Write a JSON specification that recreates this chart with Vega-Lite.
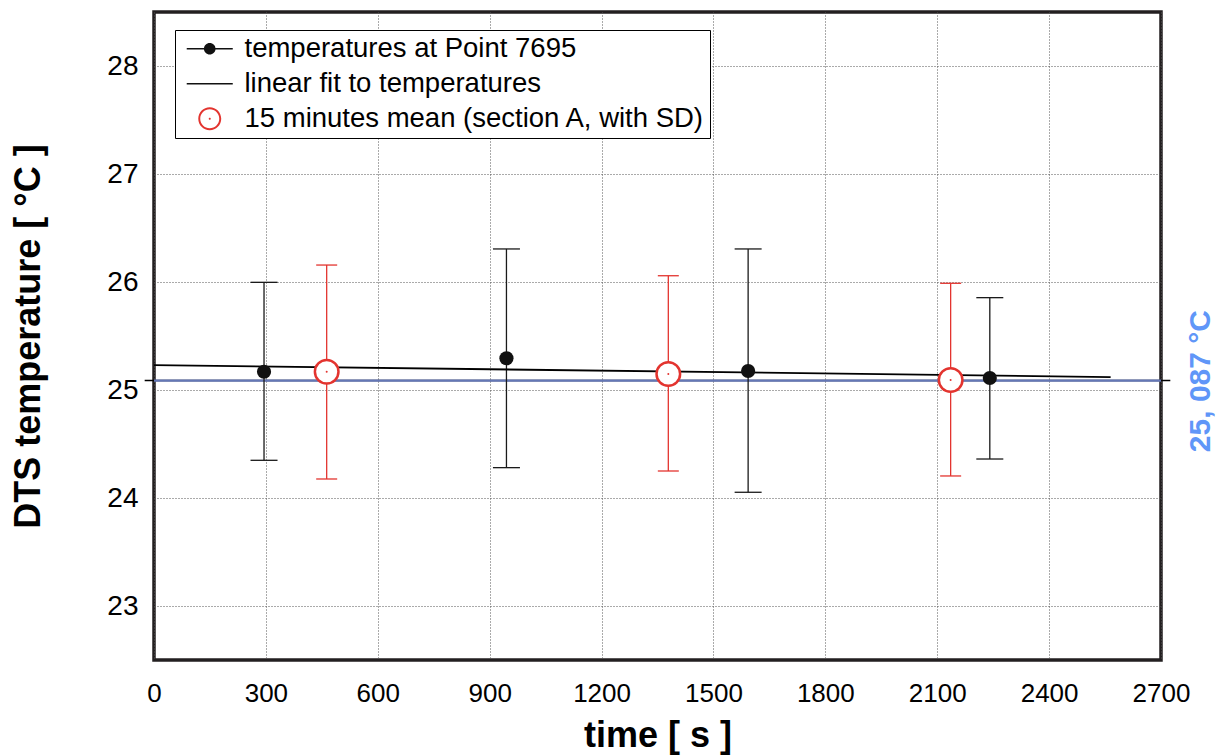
{
  "$schema": "https://vega.github.io/schema/vega-lite/v6.json",
  "width": 1007,
  "height": 648,
  "autosize": {"type": "none"},
  "padding": {"left": 154, "top": 12, "right": 60, "bottom": 95},
  "background": "white",
  "config": {
    "font": "Liberation Sans",
    "view": {"stroke": "#231f20", "strokeWidth": 3.5},
    "axis": {
      "domain": false, "ticks": false, "tickSize": 0,
      "gridColor": "#555", "gridDash": [1, 2], "gridWidth": 1,
      "labelFont": "Liberation Sans", "labelColor": "#000",
      "titleFont": "Liberation Sans", "titleColor": "#000", "titleFontWeight": "bold"
    }
  },
  "datasets": {
    "obs": [
      {"series": "temperatures at Point 7695", "t": 295, "y": 25.169, "lo": 24.349, "hi": 25.997},
      {"series": "temperatures at Point 7695", "t": 945, "y": 25.294, "lo": 24.281, "hi": 26.306},
      {"series": "temperatures at Point 7695", "t": 1593, "y": 25.176, "lo": 24.053, "hi": 26.306},
      {"series": "temperatures at Point 7695", "t": 2241, "y": 25.111, "lo": 24.361, "hi": 25.855},
      {"series": "15 minutes mean (section A, with SD)", "t": 463, "y": 25.169, "lo": 24.176, "hi": 26.157},
      {"series": "15 minutes mean (section A, with SD)", "t": 1379, "y": 25.148, "lo": 24.25, "hi": 26.058},
      {"series": "15 minutes mean (section A, with SD)", "t": 2136, "y": 25.093, "lo": 24.204, "hi": 25.988}
    ],
    "fit": [
      {"series": "linear fit to temperatures", "t": 0, "y": 25.231},
      {"series": "linear fit to temperatures", "t": 2565, "y": 25.12}
    ],
    "ref": [
      {"label": "25, 087 °C", "value": 25.087}
    ]
  },
  "resolve": {"axis": {"y": "independent"}},
  "layer": [
    {
      "data": {"name": "ref"},
      "mark": {"type": "rule", "color": "#000", "strokeWidth": 1.5, "clip": false},
      "encoding": {
        "x": {"datum": -25, "type": "quantitative",
          "scale": {"domain": [0, 2700], "nice": false, "zero": false},
          "axis": {"values": [0, 300, 600, 900, 1200, 1500, 1800, 2100, 2400, 2700], "grid": true, "format": "d",
            "labelFontSize": 26, "labelPadding": 20, "title": "time [ s ]", "titleFontSize": 36, "titleFontWeight": "bold", "titlePadding": 12, "labelFlush": false, "labelOverlap": false}},
        "x2": {"datum": 2725},
        "y": {"field": "value", "type": "quantitative",
          "scale": {"domain": [22.5, 28.5], "nice": false, "zero": false},
          "axis": {"values": [23, 24, 25, 26, 27, 28], "grid": true,
            "labelFontSize": 28, "labelPadding": 16, "title": "DTS temperature [ °C ]", "titleFontSize": 36, "titleFontWeight": "bold", "titlePadding": 59, "labelFlush": false, "labelOverlap": false}}
      }
    },
    {
      "data": {"name": "ref"},
      "mark": {"type": "rule", "color": "#6477b6", "strokeWidth": 2.2},
      "encoding": {
        "y": {"field": "value", "type": "quantitative",
          "axis": {"orient": "right", "values": [25.087], "labelExpr": "'25, 087 °C'", "grid": false, "ticks": false,
            "labelAngle": -90, "labelAlign": "center", "labelBaseline": "top", "labelColor": "#6096f8",
            "labelFontSize": 30, "labelFontWeight": "bold", "labelPadding": 24, "title": null, "labelFlush": false, "labelOverlap": false}}
      }
    },
    {
      "data": {"name": "obs"},
      "mark": {"type": "rule", "strokeWidth": 1.3, "opacity": 1},
      "encoding": {
        "x": {"field": "t", "type": "quantitative", "title": "time [ s ]"},
        "y": {"field": "lo", "type": "quantitative", "axis": null},
        "y2": {"field": "hi"},
        "color": {"condition": {"test": "datum.series === 'temperatures at Point 7695'", "value": "#1a1a1a"}, "value": "#e3342f"}
      }
    },
    {
      "data": {"name": "obs"},
      "mark": {"type": "tick", "orient": "horizontal", "thickness": 1.3, "opacity": 1},
      "encoding": {
        "x": {"field": "t", "type": "quantitative", "title": "time [ s ]"},
        "y": {"field": "lo", "type": "quantitative", "axis": null},
        "size": {"condition": {"test": "datum.series === 'temperatures at Point 7695'", "value": 27}, "value": 21},
        "color": {"condition": {"test": "datum.series === 'temperatures at Point 7695'", "value": "#1a1a1a"}, "value": "#e3342f"}
      }
    },
    {
      "data": {"name": "obs"},
      "mark": {"type": "tick", "orient": "horizontal", "thickness": 1.3, "opacity": 1},
      "encoding": {
        "x": {"field": "t", "type": "quantitative", "title": "time [ s ]"},
        "y": {"field": "hi", "type": "quantitative", "axis": null},
        "size": {"condition": {"test": "datum.series === 'temperatures at Point 7695'", "value": 27}, "value": 21},
        "color": {"condition": {"test": "datum.series === 'temperatures at Point 7695'", "value": "#1a1a1a"}, "value": "#e3342f"}
      }
    },
    {
      "data": {"name": "fit"},
      "mark": {"type": "line", "color": "#000", "strokeWidth": 1.8},
      "encoding": {
        "x": {"field": "t", "type": "quantitative", "title": "time [ s ]"},
        "y": {"field": "y", "type": "quantitative", "axis": null}
      }
    },
    {
      "data": {"name": "obs"},
      "transform": [{"filter": "datum.series !== 'temperatures at Point 7695'"}],
      "mark": {"type": "point", "shape": "circle", "filled": false, "fill": "#fff", "stroke": "#e3342f", "strokeWidth": 2.5, "size": 556, "opacity": 1},
      "encoding": {
        "x": {"field": "t", "type": "quantitative", "title": "time [ s ]"},
        "y": {"field": "y", "type": "quantitative", "axis": null}
      }
    },
    {
      "data": {"name": "obs"},
      "transform": [{"filter": "datum.series !== 'temperatures at Point 7695'"}],
      "mark": {"type": "point", "shape": "circle", "filled": true, "color": "#e3342f", "size": 4, "opacity": 1},
      "encoding": {
        "x": {"field": "t", "type": "quantitative", "title": "time [ s ]"},
        "y": {"field": "y", "type": "quantitative", "axis": null}
      }
    },
    {
      "data": {"name": "obs"},
      "transform": [{"filter": "datum.series === 'temperatures at Point 7695'"}],
      "mark": {"type": "point", "shape": "circle", "filled": true, "color": "#111", "size": 201, "opacity": 1},
      "encoding": {
        "x": {"field": "t", "type": "quantitative", "title": "time [ s ]"},
        "y": {"field": "y", "type": "quantitative", "axis": null}
      }
    },
    {
      "data": {"name": "obs"},
      "mark": {"type": "point", "filled": true, "opacity": 0, "size": 729},
      "encoding": {
        "x": {"field": "t", "type": "quantitative", "title": "time [ s ]"},
        "y": {"field": "y", "type": "quantitative", "axis": null},
        "shape": {"field": "series", "type": "nominal",
          "scale": {"domain": ["temperatures at Point 7695", "linear fit to temperatures", "15 minutes mean (section A, with SD)"],
            "range": [
              "M-0.52,-0.06H2.89V0.06H-0.52Z M0.755,0A0.43,0.43 0 1,1 1.615,0A0.43,0.43 0 1,1 0.755,0Z",
              "M-0.52,-0.06H2.89V0.06H-0.52Z",
              "M0.335,0A0.85,0.85 0 1,1 2.035,0A0.85,0.85 0 1,1 0.335,0Z M0.481,0A0.704,0.704 0 1,0 1.889,0A0.704,0.704 0 1,0 0.481,0Z M1.111,0A0.074,0.074 0 1,1 1.259,0A0.074,0.074 0 1,1 1.111,0Z"
            ]},
          "legend": {
            "orient": "none", "legendX": 21, "legendY": 18, "title": null, "direction": "vertical",
            "padding": 5, "rowPadding": 6, "strokeColor": "#000", "fillColor": "#fff", "cornerRadius": 0,
            "labelFont": "Liberation Sans", "labelFontSize": 27.5, "labelColor": "#000", "labelOffset": 37, "labelLimit": 700,
            "symbolSize": 729, "symbolStrokeWidth": 0, "symbolOpacity": 1
          }},
        "color": {"field": "series", "type": "nominal",
          "scale": {"domain": ["temperatures at Point 7695", "linear fit to temperatures", "15 minutes mean (section A, with SD)"],
            "range": ["#111111", "#111111", "#e3342f"]}}
      }
    }
  ]
}
